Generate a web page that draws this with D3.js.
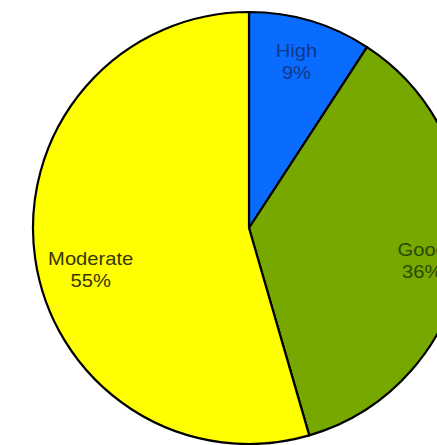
<!DOCTYPE html>
<html>
<head>
  <meta charset="utf-8">
  <script src="https://d3js.org/d3.v7.min.js"></script>
  <style>
    body { margin: 0; background: #fff; }
    text { font-family: "Liberation Sans", Arial, sans-serif; }
  </style>
</head>
<body>
  <script>
    // chart data
    var categories = ["High", "Good", "Moderate"];
    var shares = [9.2, 36.3, 54.5];
    var percentLabels = ["9%", "36%", "55%"];

    var colors = { High: "#0a6cff", Good: "#76a800", Moderate: "#ffff00" };
    var textColors = { High: "#10388a", Good: "#2a4800", Moderate: "#383800" };
    // small nudges so labels sit where the original put them
    var nudge = { High: [-1, -3], Good: [5, 8], Moderate: [10, 18] };

    var width = 437, height = 445,
        cx = 249, cy = 228, radius = 216;

    var svg = d3.select("body").append("svg")
        .attr("width", width)
        .attr("height", height);

    var g = svg.append("g").attr("transform", "translate(" + cx + "," + cy + ")");

    var data = categories.map(function (c, i) {
      return { name: c, value: shares[i], label: percentLabels[i] };
    });

    var pie = d3.pie().sort(null).value(function (d) { return d.value; });
    var arc = d3.arc().innerRadius(0).outerRadius(radius);
    var labelArc = d3.arc().innerRadius(170).outerRadius(170);

    var arcs = pie(data);

    g.selectAll("path.slice")
      .data(arcs)
      .enter().append("path")
        .attr("class", "slice")
        .attr("d", arc)
        .attr("fill", function (d) { return colors[d.data.name]; })
        .attr("stroke", "#000")
        .attr("stroke-width", 2.2)
        .attr("stroke-linejoin", "round");

    var labels = g.selectAll("g.lbl")
      .data(arcs)
      .enter().append("g")
        .attr("class", "lbl")
        .attr("transform", function (d) {
          var c = labelArc.centroid(d), n = nudge[d.data.name];
          return "translate(" + (c[0] + n[0]) + "," + (c[1] + n[1]) + ") scale(1.12,1)";
        });

    labels.append("text")
      .attr("text-anchor", "middle")
      .attr("y", -5)
      .style("font-size", "18px")
      .attr("fill", function (d) { return textColors[d.data.name]; })
      .text(function (d) { return d.data.name; });

    labels.append("text")
      .attr("text-anchor", "middle")
      .attr("y", 17)
      .style("font-size", "18px")
      .attr("fill", function (d) { return textColors[d.data.name]; })
      .text(function (d) { return d.data.label; });
  </script>
</body>
</html>
